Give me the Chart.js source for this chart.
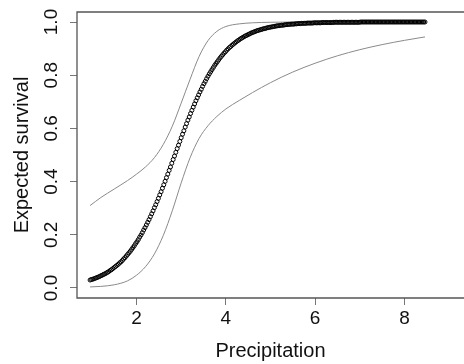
<!DOCTYPE html>
<html>
<head>
<meta charset="utf-8">
<script src="https://cdn.jsdelivr.net/npm/chart.js@4.4.1/dist/chart.umd.min.js"></script>
<style>
  html, body { margin: 0; padding: 0; background: #fff; overflow: hidden; }
  #wrap { width: 464px; height: 364px; }
</style>
</head>
<body>
<div id="wrap"><canvas id="c1" width="464" height="364"></canvas></div>
<script>
// fitted curve (open circles)
const precip = [
  0.96, 0.99, 1.02, 1.05, 1.08, 1.11, 1.14, 1.17, 1.20, 1.23,
  1.26, 1.29, 1.32, 1.35, 1.38, 1.41, 1.44, 1.47, 1.50, 1.53,
  1.56, 1.59, 1.62, 1.65, 1.68, 1.71, 1.74, 1.77, 1.80, 1.83,
  1.86, 1.89, 1.92, 1.95, 1.98, 2.01, 2.04, 2.07, 2.10, 2.13,
  2.16, 2.19, 2.22, 2.25, 2.28, 2.31, 2.34, 2.37, 2.40, 2.43,
  2.46, 2.49, 2.52, 2.55, 2.58, 2.61, 2.64, 2.67, 2.70, 2.73,
  2.76, 2.79, 2.82, 2.85, 2.88, 2.91, 2.94, 2.97, 3.00, 3.03,
  3.06, 3.09, 3.12, 3.15, 3.18, 3.21, 3.24, 3.27, 3.30, 3.33,
  3.36, 3.39, 3.42, 3.45, 3.48, 3.51, 3.54, 3.57, 3.60, 3.63,
  3.66, 3.69, 3.72, 3.75, 3.78, 3.81, 3.84, 3.87, 3.90, 3.93,
  3.96, 3.99, 4.02, 4.05, 4.08, 4.11, 4.14, 4.17, 4.20, 4.23,
  4.26, 4.29, 4.32, 4.35, 4.38, 4.41, 4.44, 4.47, 4.50, 4.53,
  4.56, 4.59, 4.62, 4.65, 4.68, 4.71, 4.74, 4.77, 4.80, 4.83,
  4.86, 4.89, 4.92, 4.95, 4.98, 5.01, 5.04, 5.07, 5.10, 5.13,
  5.16, 5.19, 5.22, 5.25, 5.28, 5.31, 5.34, 5.37, 5.40, 5.43,
  5.46, 5.49, 5.52, 5.55, 5.58, 5.61, 5.64, 5.67, 5.70, 5.73,
  5.76, 5.79, 5.82, 5.85, 5.88, 5.91, 5.94, 5.97, 6.00, 6.03,
  6.06, 6.09, 6.12, 6.15, 6.18, 6.21, 6.24, 6.27, 6.30, 6.33,
  6.36, 6.39, 6.42, 6.45, 6.48, 6.51, 6.54, 6.57, 6.60, 6.63,
  6.66, 6.69, 6.72, 6.75, 6.78, 6.81, 6.84, 6.87, 6.90, 6.93,
  6.96, 6.99, 7.02, 7.05, 7.08, 7.11, 7.14, 7.17, 7.20, 7.23,
  7.26, 7.29, 7.32, 7.35, 7.38, 7.41, 7.44, 7.47, 7.50, 7.53,
  7.56, 7.59, 7.62, 7.65, 7.68, 7.71, 7.74, 7.77, 7.80, 7.83,
  7.86, 7.89, 7.92, 7.95, 7.98, 8.01, 8.04, 8.07, 8.10, 8.13,
  8.16, 8.19, 8.22, 8.25, 8.28, 8.31, 8.34, 8.37, 8.40, 8.43,
  8.46
];
const survival = [
  0.030, 0.032, 0.033, 0.035, 0.037, 0.039, 0.041, 0.043, 0.046, 0.048,
  0.051, 0.053, 0.056, 0.059, 0.062, 0.066, 0.069, 0.073, 0.077, 0.081,
  0.085, 0.089, 0.094, 0.098, 0.103, 0.109, 0.114, 0.120, 0.126, 0.132,
  0.138, 0.145, 0.152, 0.159, 0.167, 0.174, 0.182, 0.191, 0.199, 0.208,
  0.218, 0.227, 0.237, 0.247, 0.257, 0.268, 0.279, 0.290, 0.302, 0.313,
  0.325, 0.337, 0.350, 0.362, 0.375, 0.388, 0.401, 0.415, 0.428, 0.442,
  0.455, 0.469, 0.483, 0.496, 0.510, 0.524, 0.537, 0.551, 0.565, 0.578,
  0.591, 0.605, 0.618, 0.631, 0.643, 0.656, 0.668, 0.680, 0.692, 0.704,
  0.715, 0.726, 0.737, 0.747, 0.758, 0.768, 0.777, 0.787, 0.796, 0.805,
  0.813, 0.821, 0.829, 0.837, 0.844, 0.851, 0.858, 0.865, 0.871, 0.877,
  0.883, 0.888, 0.894, 0.899, 0.904, 0.908, 0.913, 0.917, 0.921, 0.925,
  0.929, 0.932, 0.936, 0.939, 0.942, 0.945, 0.948, 0.950, 0.953, 0.955,
  0.958, 0.960, 0.962, 0.964, 0.966, 0.968, 0.969, 0.971, 0.972, 0.974,
  0.975, 0.976, 0.978, 0.979, 0.980, 0.981, 0.982, 0.983, 0.984, 0.985,
  0.986, 0.986, 0.987, 0.988, 0.988, 0.989, 0.990, 0.990, 0.991, 0.991,
  0.992, 0.992, 0.992, 0.993, 0.993, 0.994, 0.994, 0.994, 0.995, 0.995,
  0.995, 0.995, 0.996, 0.996, 0.996, 0.996, 0.996, 0.997, 0.997, 0.997,
  0.997, 0.997, 0.997, 0.998, 0.998, 0.998, 0.998, 0.998, 0.998, 0.998,
  0.998, 0.998, 0.999, 0.999, 0.999, 0.999, 0.999, 0.999, 0.999, 0.999,
  0.999, 0.999, 0.999, 0.999, 0.999, 0.999, 0.999, 0.999, 0.999, 0.999,
  0.999, 0.999, 1, 1, 1, 1, 1, 1, 1, 1,
  1, 1, 1, 1, 1, 1, 1, 1, 1, 1,
  1, 1, 1, 1, 1, 1, 1, 1, 1, 1,
  1, 1, 1, 1, 1, 1, 1, 1, 1, 1,
  1, 1, 1, 1, 1, 1, 1, 1, 1, 1,
  1
];

// confidence band (thin grey lines)
const bandPrecip = [0.96, 1.2, 1.5, 1.8, 2.0, 2.2, 2.4, 2.6, 2.8, 3.0, 3.2, 3.4, 3.6, 3.8, 4.0, 4.3, 4.6, 5.0, 5.5, 6.0, 6.5, 7.0, 7.5, 8.0, 8.46];
const upperBand = [0.31, 0.34, 0.372, 0.404, 0.428, 0.455, 0.49, 0.54, 0.608, 0.695, 0.785, 0.87, 0.93, 0.965, 0.983, 0.993, 0.997, 0.999, 1, 1, 1, 1, 1, 1, 1];
const lowerBand = [0.004, 0.006, 0.012, 0.027, 0.048, 0.08, 0.128, 0.198, 0.29, 0.395, 0.49, 0.562, 0.61, 0.645, 0.673, 0.705, 0.735, 0.772, 0.812, 0.845, 0.873, 0.896, 0.915, 0.931, 0.944];

const xTicks = [2, 4, 6, 8];
const yTicks = [0, 0.2, 0.4, 0.6, 0.8, 1.0];
const yTickLabels = ['0.0', '0.2', '0.4', '0.6', '0.8', '1.0'];

const fam = "'Liberation Sans', Arial, Helvetica, sans-serif";

// R style box (right side runs off the picture) + rotated y tick labels
const rFrame = {
    id: 'rFrame',
    afterDraw(chart) {
        let ctx = chart.ctx;
        let a = chart.chartArea;
        let ys = chart.scales.y;
        ctx.save();
        ctx.strokeStyle = '#555';
        ctx.lineWidth = 1.3;
        ctx.beginPath();
        ctx.moveTo(chart.width, a.top);
        ctx.lineTo(a.left, a.top);
        ctx.lineTo(a.left, a.bottom);
        ctx.lineTo(chart.width, a.bottom);
        ctx.stroke();
        ctx.fillStyle = '#111';
        ctx.font = '19px ' + fam;
        ctx.textAlign = 'center';
        ctx.textBaseline = 'middle';
        yTicks.forEach((v, i) => {
            ctx.save();
            ctx.translate(a.left - 25, ys.getPixelForValue(v));
            ctx.rotate(-Math.PI / 2);
            ctx.fillText(yTickLabels[i], 0, 0);
            ctx.restore();
        });
        ctx.restore();
    }
};

let c1 = document.querySelector('#c1');
let opts = {
    type: 'scatter',
    data: {
        datasets: [
            {
                data: precip.map((x, i) => ({ x: x, y: survival[i] })),
                showLine: false,
                pointStyle: 'circle',
                pointRadius: 2,
                pointBorderWidth: 1,
                pointBorderColor: '#000',
                pointBackgroundColor: 'rgba(0,0,0,0)',
            },
            {
                data: bandPrecip.map((x, i) => ({ x: x, y: upperBand[i] })),
                showLine: true,
                borderColor: '#8a8a8a',
                borderWidth: 1,
                pointRadius: 0,
                cubicInterpolationMode: 'monotone',
            },
            {
                data: bandPrecip.map((x, i) => ({ x: x, y: lowerBand[i] })),
                showLine: true,
                borderColor: '#8a8a8a',
                borderWidth: 1,
                pointRadius: 0,
                cubicInterpolationMode: 'monotone',
            },
        ]
    },
    options: {
        responsive: false,
        animation: false,
        events: [],
        layout: { autoPadding: false, padding: { top: 12, right: -3, left: 0, bottom: 0 } },
        plugins: { legend: { display: false }, tooltip: { enabled: false } },
        scales: {
            x: {
                type: 'linear',
                min: 0.667,
                max: 9.333,
                afterBuildTicks: s => { s.ticks = xTicks.map(v => ({ value: v })); },
                afterFit: s => { s.height = 66; s.paddingLeft = 0; s.paddingRight = 0; },
                grid: { drawOnChartArea: false, drawTicks: true, tickLength: 7, color: '#777' },
                border: { display: false },
                ticks: { color: '#111', font: { size: 19, family: fam }, padding: 2, maxRotation: 0 },
                title: { display: true, text: 'Precipitation', color: '#111', font: { size: 20, family: fam }, padding: { top: 0, bottom: 1 } },
            },
            y: {
                type: 'linear',
                min: -0.0376,
                max: 1.0376,
                afterBuildTicks: s => { s.ticks = yTicks.map(v => ({ value: v })); },
                afterFit: s => { s.width = 77; s.paddingTop = 0; s.paddingBottom = 0; },
                grid: { drawOnChartArea: false, drawTicks: true, tickLength: 7, color: '#777' },
                border: { display: false },
                ticks: { display: false },
                title: { display: true, text: 'Expected survival', color: '#111', font: { size: 20, family: fam }, padding: { top: 10, bottom: 0 } },
            }
        }
    },
    plugins: [rFrame]
};
let chart1 = new Chart(c1, opts);
</script>
</body>
</html>
